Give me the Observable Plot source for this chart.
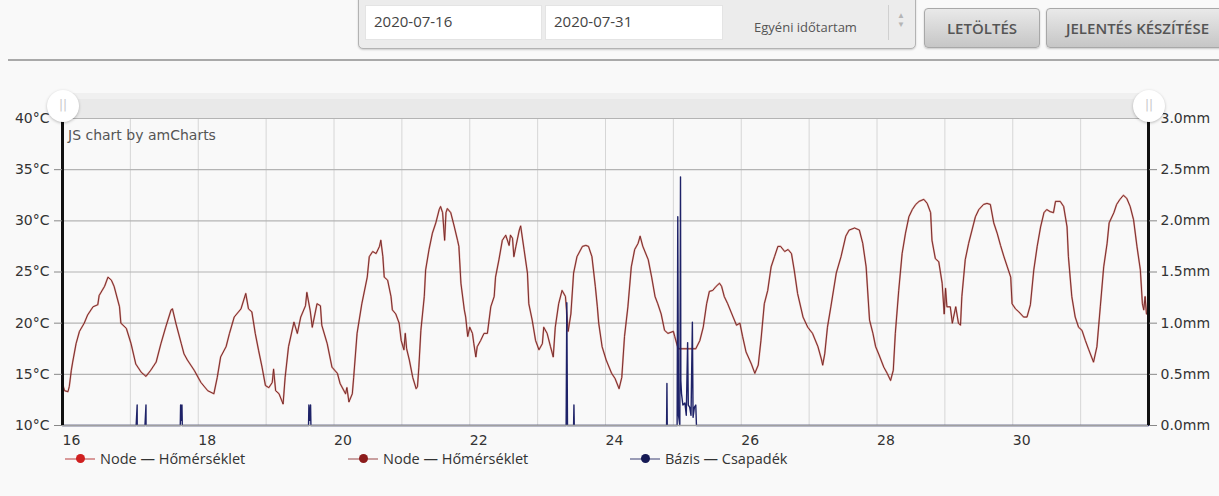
<!DOCTYPE html>
<html>
<head>
<meta charset="utf-8">
<script src="https://cdn.jsdelivr.net/npm/d3@7"></script>
<script src="https://cdn.jsdelivr.net/npm/@observablehq/plot@0.6"></script>
<style>
  html, body { margin: 0; padding: 0; }
  body { width: 1219px; height: 496px; overflow: hidden; position: relative; background: #f9f9f9; font-family: "Open Sans", sans-serif; }
  #topline { position: absolute; left: 8px; right: 0; top: 59px; border-top: 2px solid #a9a9a9; }
  #panel { position: absolute; left: 358px; top: -6px; width: 556px; height: 53px; background: #ececec; border: 1px solid #b3b3b3; border-radius: 0 0 5px 5px; box-shadow: 0 1px 2px rgba(0,0,0,.18); }
  .inp { position: absolute; top: 10px; height: 35px; background: #fff; border: 1px solid #e4e4e4; box-sizing: border-box; font-size: 15px; color: #444; line-height: 30px; padding-left: 8px; }
  #sel { position: absolute; top: 10px; left: 364px; width: 166px; height: 35px; font-size: 13px; color: #555; line-height: 44px; text-align: center; border-right: 1px solid #d0d0d0; box-sizing: border-box; }
  #spin { position: absolute; top: 15px; left: 534px; width: 16px; font-size: 8px; color: #b5b5b5; line-height: 9px; text-align: center; }
  .btn { position: absolute; top: 8px; height: 40px; box-sizing: border-box; background: linear-gradient(#e9e9e9, #c6c6c6); border: 1px solid #a8a8a8; border-radius: 4px; font-size: 15px; font-weight: 600; color: #555; line-height: 38px; box-shadow: 0 1px 2px rgba(0,0,0,.2); }
  #chart { position: absolute; left: 0; top: 88px; }
  #scroll { position: absolute; left: 62px; top: 93px; width: 1086px; height: 25px; background: linear-gradient(#f0f0f0 0, #f0f0f0 25%, #e9e9e9 26%, #e9e9e9 100%); z-index: 2; }
  .handle { position: absolute; top: 90px; width: 32px; height: 32px; border-radius: 50%; background: #fff; box-shadow: 0 1px 3px rgba(0,0,0,.25); z-index: 3; text-align: center; font-size: 12px; color: #c8c8c8; line-height: 30px; font-family: "DejaVu Sans", sans-serif; }
  #watermark { position: absolute; left: 68px; top: 127px; font-family: "DejaVu Sans", sans-serif; font-size: 14px; color: #555; z-index: 2; }
  #legend { position: absolute; top: 449px; left: 0; width: 1219px; height: 20px; font-size: 14.5px; color: #333; }
  .item { position: absolute; top: 0; height: 20px; line-height: 20px; }
  .item .ln { position: absolute; top: 9px; left: 0; width: 30px; height: 2px; }
  .item .dot { position: absolute; top: 5px; left: 11px; width: 9px; height: 9px; border-radius: 50%; }
  .item .tx { position: absolute; left: 35px; top: 0; white-space: nowrap; }
</style>
</head>
<body>
<div id="topline"></div>
<div id="panel">
  <div class="inp" style="left:6px;width:177px;">2020-07-16</div>
  <div class="inp" style="left:186px;width:178px;">2020-07-31</div>
  <div id="sel">Egyéni időtartam</div>
  <div id="spin">▲<br>▼</div>
</div>
<div class="btn" style="left:924px;width:116px;text-align:center;">LETÖLTÉS</div>
<div class="btn" style="left:1046px;width:200px;padding-left:19px;">JELENTÉS KÉSZÍTÉSE</div>

<div id="chart"></div>
<div id="scroll"></div>
<div class="handle" style="left:47px;">||</div>
<div class="handle" style="left:1133px;">||</div>
<div id="watermark">JS chart by amCharts</div>

<div id="legend"></div>

<script>
// ---- data (day-of-month, July 2020, fractional) ----
const tempDay = [
16.00,16.03,16.08,16.10,16.13,16.15,16.20,16.25,16.32,16.37,16.45,16.52,16.54,16.62,16.67,16.72,16.76,16.84,16.86,16.94,
17.01,17.08,17.16,17.23,17.30,17.38,17.45,17.52,17.60,17.62,17.67,17.75,17.79,17.84,17.94,
18.04,18.14,18.23,18.28,18.33,18.41,18.46,18.53,18.63,18.70,18.74,18.79,18.84,18.89,18.94,18.99,
19.04,19.09,19.11,19.14,19.19,19.25,19.28,19.33,19.41,19.46,19.51,19.58,19.60,19.65,19.68,19.75,19.80,19.82,19.90,19.97,
20.05,20.09,20.17,20.19,20.22,20.27,20.29,20.34,20.41,20.49,20.52,20.57,20.62,20.67,20.69,20.72,20.74,20.79,20.84,20.86,20.91,20.96,20.99,
21.03,21.05,21.07,21.11,21.16,21.21,21.23,21.25,21.28,21.33,21.35,21.40,21.45,21.50,21.55,21.57,21.60,21.63,21.65,21.67,21.72,21.77,21.82,21.84,21.87,21.92,21.94,21.97,
22.00,22.04,22.06,22.09,22.11,22.16,22.21,22.26,22.31,22.36,22.38,22.43,22.48,22.53,22.58,22.60,22.63,22.65,22.68,22.73,22.75,22.80,22.85,22.87,22.92,22.97,
23.02,23.07,23.09,23.14,23.19,23.23,23.26,23.31,23.36,23.41,23.44,23.45,23.49,23.53,23.58,23.66,23.71,23.75,23.80,23.85,23.88,23.90,23.95,
24.01,24.09,24.14,24.20,24.24,24.28,24.33,24.38,24.43,24.48,24.51,24.55,24.63,24.68,24.73,24.77,24.82,24.87,24.92,
25.00,25.02,25.07,25.14,25.24,25.33,25.39,25.44,25.49,25.53,25.58,25.63,25.68,25.71,25.75,25.80,25.88,25.93,25.98,
26.02,26.07,26.15,26.20,26.25,26.29,26.34,26.39,26.44,26.49,26.54,26.58,26.64,26.69,26.74,26.78,26.83,26.91,26.98,
27.05,27.13,27.18,27.20,27.23,27.27,27.32,27.40,27.47,27.54,27.59,27.67,27.74,27.79,27.84,27.89,27.94,
27.98,28.03,28.10,28.15,28.20,28.24,28.27,28.32,28.37,28.42,28.47,28.52,28.57,28.62,28.69,28.74,28.79,28.81,28.86,28.91,28.96,28.99,
29.01,29.03,29.08,29.11,29.16,29.20,29.23,29.25,29.30,29.35,29.40,29.45,29.50,29.57,29.62,29.67,29.72,29.77,29.82,29.87,29.92,29.97,29.99,
30.04,30.09,30.16,30.21,30.26,30.31,30.36,30.41,30.46,30.50,30.55,30.60,30.63,30.70,30.75,30.80,30.82,30.87,30.92,30.97,
31.02,31.07,31.12,31.19,31.24,31.29,31.34,31.39,31.42,31.49,31.53,31.58,31.63,31.68,31.73,31.78,31.83,31.88,31.91,31.93,31.95,31.97
];
const tempC = [
14.1,13.4,13.3,13.8,15.4,16.2,18.0,19.2,20.0,20.8,21.6,21.8,22.7,23.6,24.5,24.2,23.6,21.6,20.0,19.5,
18.0,16.0,15.2,14.8,15.4,16.2,18.0,19.6,21.3,21.4,20.0,18.0,17.0,16.4,15.4,
14.2,13.4,13.1,14.7,16.7,17.7,19.0,20.6,21.4,22.9,21.4,21.1,19.0,17.3,15.7,13.9,
13.7,14.2,15.5,13.4,13.1,12.1,14.7,17.7,20.1,19.0,20.6,21.7,23.0,21.2,19.6,21.9,21.7,19.8,18.0,15.7,
15.1,14.1,13.1,13.7,12.3,13.1,14.7,19.0,21.9,24.5,26.5,27.0,26.8,27.5,28.1,26.5,24.5,24.2,22.6,21.3,20.9,20.0,18.3,
17.4,19.0,17.5,16.4,14.7,13.6,13.8,15.7,19.3,22.6,25.2,27.2,28.8,29.8,31.1,31.4,30.8,28.1,30.8,31.2,30.8,29.5,28.1,27.5,23.9,21.3,20.6,18.7,
19.6,19.0,18.0,16.7,17.7,18.3,19.0,19.0,21.6,22.6,24.5,26.2,28.1,28.6,27.6,28.6,28.3,26.5,27.5,29.1,29.5,27.2,24.9,21.9,20.3,18.3,
17.4,18.0,19.6,19.0,17.7,16.7,19.6,21.9,23.2,22.6,20.0,19.2,20.9,24.9,26.5,27.5,27.6,27.5,26.5,23.6,21.6,20.0,17.7,
16.4,15.1,14.6,13.6,14.7,18.7,21.6,25.5,27.2,27.8,28.5,27.5,26.2,24.5,22.6,21.9,20.9,19.3,19.0,
19.2,18.7,17.5,17.5,17.5,17.5,18.3,19.6,21.9,23.1,23.2,23.6,23.9,23.6,22.6,21.9,20.6,19.8,20.0,
18.7,17.2,16.0,15.1,15.9,18.3,21.9,23.2,25.5,26.5,27.5,27.5,27.0,27.2,26.8,25.2,22.9,20.6,19.6,
19.0,17.7,16.5,15.9,17.0,19.6,21.6,24.9,26.5,28.5,29.1,29.3,29.1,27.8,25.5,20.3,19.0,
17.7,16.9,15.7,15.1,14.4,15.4,19.0,23.2,26.8,28.8,30.4,31.1,31.6,31.9,32.1,31.7,30.8,28.1,26.3,26.0,23.9,20.9,
23.4,21.6,21.6,20.0,21.6,20.0,19.8,22.6,26.2,27.8,29.1,30.4,31.1,31.6,31.7,31.6,29.8,28.8,27.6,26.5,25.5,24.5,21.9,
21.4,21.1,20.6,20.6,21.8,25.2,27.5,29.4,30.8,31.1,30.9,30.8,31.9,31.9,31.4,29.4,26.5,22.6,20.6,19.6,
19.3,18.3,17.4,16.2,17.7,21.6,25.5,27.8,29.8,30.8,31.6,32.1,32.5,32.2,31.4,30.1,27.5,25.2,21.9,21.3,22.6,20.9
];
const rainDay = [
16.00,17.085,17.10,17.101,17.215,17.23,17.231,17.735,17.74,17.75,17.76,17.765,
19.625,19.63,19.64,19.655,19.66,23.42,23.43,23.435,23.44,23.53,23.535,23.54,
24.90,24.905,24.91,25.055,25.065,25.075,25.095,25.105,25.11,25.12,25.14,25.17,25.19,25.21,25.22,25.24,25.26,25.28,25.29,25.31,25.33,25.34,32.00
];
const rainMM = [
0,0,0.2,0,0,0.2,0,0,0.2,0.05,0.2,0,
0,0.2,0.05,0.2,0,0,1.2,0.6,0,0,0.2,0,
0,0.41,0,0,2.04,0.1,0,2.43,0.44,0.31,0.2,0.22,0.1,0.81,0.2,0.18,0.1,1.01,0.08,0.18,0.2,0,0
];
const xTickDays = [16,18,20,22,24,26,28,30];
const gridDays = [17,18,19,20,21,22,23,24,25,26,27,28,29,30,31];
const tempTicks = [10,15,20,25,30,35,40];
const rainTicks = [0,0.5,1.0,1.5,2.0,2.5,3.0];
const legendItems = [
  {label:"Node — Hőmérséklet", dot:"#d01f1f", line:"#d99a9a", left:65},
  {label:"Node — Hőmérséklet", dot:"#8c1c1c", line:"#c9a0a0", left:348},
  {label:"Bázis — Csapadék", dot:"#161a55", line:"#9a9cb6", left:630}
];

// ---- build ----
const toDate = d => new Date(Date.UTC(2020, 6, 16) + (d - 16) * 864e5);
const temp = tempDay.map((d, i) => ({t: toDate(d), v: tempC[i]}));
const rain = rainDay.map((d, i) => ({t: toDate(d), mm: rainMM[i]}));
// right axis: 0–3 mm shares the plot height with 10–40 °C
const mmToC = mm => 10 + mm * 10;

const chart = Plot.plot({
  width: 1219,
  height: 367,
  marginLeft: 62,
  marginRight: 71,
  marginTop: 30,
  marginBottom: 30,
  style: {background: "transparent", fontFamily: "DejaVu Sans, sans-serif", fontSize: "14px", color: "#333", overflow: "visible"},
  x: {type: "utc", domain: [toDate(16), toDate(32)], label: null},
  y: {domain: [10, 40], label: null},
  marks: [
    Plot.gridX(gridDays.map(toDate), {stroke: "#d6d6d6", strokeOpacity: 1}),
    Plot.gridY(tempTicks, {stroke: "#b4b4b4", strokeOpacity: 1, strokeWidth: 1.2}),
    Plot.line(temp, {x: "t", y: "v", stroke: "#c0392b", strokeWidth: 1.8, strokeOpacity: 0.45}),
    Plot.line(temp, {x: "t", y: "v", stroke: "#6e2020", strokeWidth: 0.9}),
    Plot.line(rain, {x: "t", y: d => mmToC(d.mm), stroke: "#1e2268", strokeWidth: 1.4}),
    Plot.ruleY([10], {stroke: "#a0a0a0", strokeWidth: 1.5}),
    Plot.ruleX([toDate(16), toDate(32)], {stroke: "#111", strokeWidth: 3}),
    Plot.axisY(tempTicks, {anchor: "left", label: null, tickFormat: d => d + "°C", tickSize: 8, tickPadding: 5, stroke: "#888", fill: "#333"}),
    Plot.axisY(tempTicks, {anchor: "right", label: null, tickFormat: d => ((d - 10) / 10).toFixed(1) + "mm", tickSize: 8, tickPadding: 4, stroke: "#888", fill: "#333"}),
    Plot.axisX(xTickDays.map(toDate), {label: null, tickSize: 0, tickPadding: 10, tickFormat: d => String(d.getUTCDate()), dx: 9, fill: "#333"})
  ]
});
document.getElementById("chart").appendChild(chart);

const legend = document.getElementById("legend");
for (const it of legendItems) {
  const el = document.createElement("div");
  el.className = "item";
  el.style.left = it.left + "px";
  el.innerHTML = `<div class="ln" style="background:${it.line}"></div><div class="dot" style="background:${it.dot}"></div><div class="tx">${it.label}</div>`;
  legend.appendChild(el);
}
</script>
</body>
</html>
